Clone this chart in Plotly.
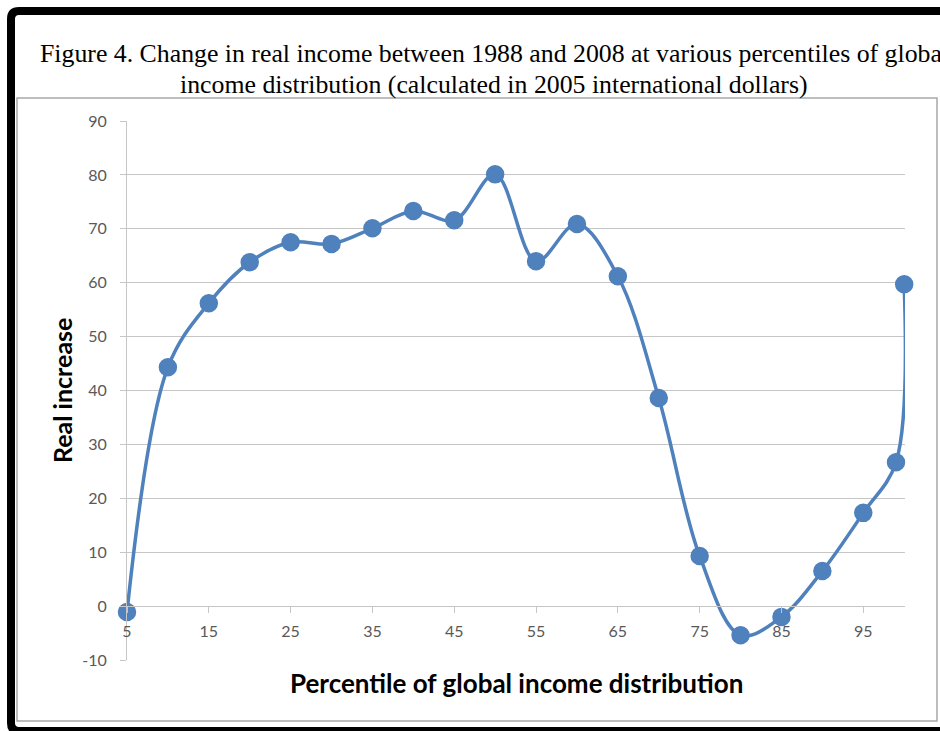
import plotly.graph_objects as go

percentiles = [5, 10, 15, 20, 25, 30, 35, 40, 45, 50, 55, 60, 65, 70, 75, 80, 85, 90, 95, 99, 100]
real_increase = [-1.1, 44.3, 56.2, 63.8, 67.5, 67.2, 70.1, 73.3, 71.6, 80.1, 64.0, 70.9, 61.2, 38.6, 9.3, -5.4, -2.0, 6.5, 17.3, 26.7, 59.7]
x_tick_vals = [5, 15, 25, 35, 45, 55, 65, 75, 85, 95]
y_tick_vals = [-10, 0, 10, 20, 30, 40, 50, 60, 70, 80, 90]
title_lines = ["Figure 4. Change in real income between 1988 and 2008 at various percentiles of global",
               "income distribution (calculated in 2005 international dollars)"]

W, H = 940, 731
L, R, T, B = 127, 905, 121, 660


def px(x):
    return (x - L) / (R - L)


def py(y):
    return (B - y) / (B - T)


BLUE = "#4f81bd"
GRID = "#c6c6c6"
TICKFONT = dict(family="Lato, Open Sans, sans-serif", size=16, color="#595959")
SERIF = dict(family="Liberation Serif, Times New Roman, serif", size=25.8, color="black")

fig = go.Figure()
fig.add_trace(go.Scatter(
    x=percentiles, y=real_increase, mode="lines+markers",
    line=dict(color=BLUE, width=3.5, shape="spline", smoothing=1.0),
    marker=dict(color=BLUE, size=17, line=dict(color=BLUE, width=1.5)),
    showlegend=False, cliponaxis=False, hoverinfo="skip",
))

frame_path = (
    f"M {px(990)} {py(11)} L {px(19)} {py(11)} Q {px(11)} {py(11)} {px(11)} {py(19)} "
    f"L {px(11)} {py(723)} Q {px(11)} {py(731)} {px(19)} {py(731)} L {px(990)} {py(731)}"
)

fig.update_layout(
    width=W, height=H,
    margin=dict(l=L, r=W - R, t=T, b=H - B),
    paper_bgcolor="white", plot_bgcolor="white",
    xaxis=dict(
        range=[5, 100.1], tickvals=x_tick_vals, ticktext=[str(v) for v in x_tick_vals],
        anchor="free", position=0.1, showgrid=False, zeroline=False,
        showline=True, linecolor=GRID, linewidth=1,
        ticks="outside", ticklen=6, tickcolor=GRID, tickfont=TICKFONT,
        ticklabelstandoff=5,
    ),
    yaxis=dict(
        range=[-10, 90], tickvals=y_tick_vals, ticktext=[str(v) for v in y_tick_vals],
        showgrid=True, gridcolor=GRID, gridwidth=1,
        zeroline=False, showline=True, linecolor=GRID, linewidth=1,
        ticks="outside", ticklen=6, tickcolor=GRID, tickfont=TICKFONT,
        ticklabelstandoff=10,
    ),
    shapes=[
        dict(type="rect", xref="paper", yref="paper",
             x0=px(17), x1=px(937), y0=py(98), y1=py(721),
             line=dict(color="#a8a8a8", width=1.5), layer="below"),
        dict(type="path", xref="paper", yref="paper", path=frame_path,
             line=dict(color="black", width=8)),
    ],
    annotations=[
        dict(text=title_lines[0], xref="paper", yref="paper", x=px(494), y=py(54),
             xanchor="center", yanchor="middle", showarrow=False, font=SERIF),
        dict(text=title_lines[1], xref="paper", yref="paper", x=px(494), y=py(84),
             xanchor="center", yanchor="middle", showarrow=False, font=SERIF),
        dict(text="<b>Percentile of global income distribution</b>",
             xref="paper", yref="paper", x=px(516), y=py(683), xanchor="center", yanchor="middle",
             showarrow=False, font=dict(family="Lato, Open Sans, sans-serif", size=26, color="black")),
        dict(text="<b>Real increase</b>", textangle=-90,
             xref="paper", yref="paper", x=px(62), y=py(391), xanchor="center", yanchor="middle",
             showarrow=False, font=dict(family="Lato, Open Sans, sans-serif", size=25, color="black")),
    ],
)

fig.write_html("out.html", config={"displayModeBar": False},
               post_script="document.body.style.margin='0';document.body.style.overflow='hidden';")
